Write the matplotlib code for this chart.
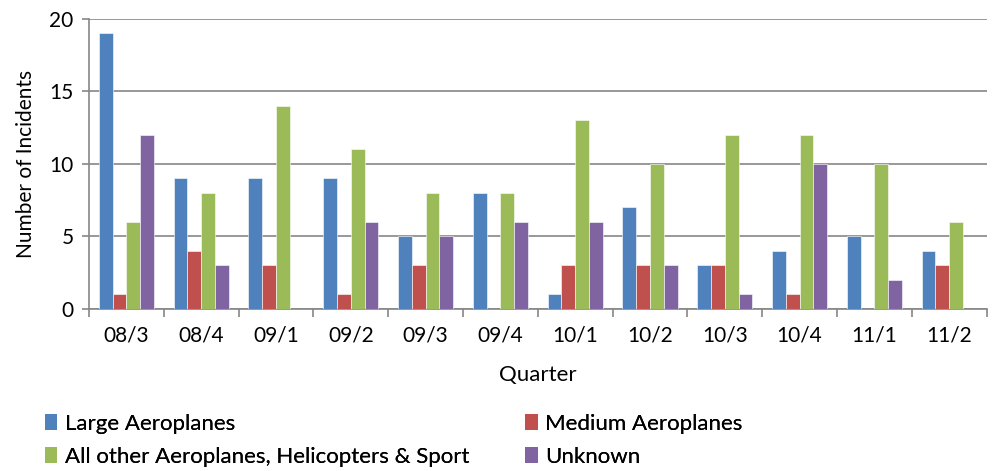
import numpy as np
import matplotlib.pyplot as plt
from matplotlib.patches import Patch

quarters = ["08/3", "08/4", "09/1", "09/2", "09/3", "09/4",
            "10/1", "10/2", "10/3", "10/4", "11/1", "11/2"]
large = [19, 9, 9, 9, 5, 8, 1, 7, 3, 4, 5, 4]
medium = [1, 4, 3, 1, 3, 0, 3, 3, 3, 1, 0, 3]
other = [6, 8, 14, 11, 8, 8, 13, 10, 12, 12, 10, 6]
unknown = [12, 3, 0, 6, 5, 6, 6, 3, 1, 10, 2, 0]

series = [
    ("Large Aeroplanes", large, "#4F81BD"),
    ("Medium Aeroplanes", medium, "#C0504D"),
    ("All other Aeroplanes, Helicopters & Sport", other, "#9BBB59"),
    ("Unknown", unknown, "#8064A2"),
]

plt.rcParams['font.family'] = ['Lato', 'DejaVu Sans']

fig = plt.figure(figsize=(9.93, 4.71), dpi=100)
ax = fig.add_axes([0.0896, 0.344, 0.904, 0.616])

x = np.arange(len(quarters))
w = 0.184
for i, (name, vals, col) in enumerate(series):
    ax.bar(x + (i - 1.5) * w, vals, width=w, color=col,
           edgecolor="white", linewidth=0.4, zorder=3)

grid_col = "#868686"
ax.set_ylim(0, 20)
ax.set_yticks([0, 5, 10, 15, 20])
ax.yaxis.grid(True, color=grid_col, linewidth=1.2, zorder=0)
ax.set_xlim(-0.5, len(quarters) - 0.5)
ax.set_xticks(x)
ax.set_xticklabels(quarters)
ax.set_xticks(np.arange(len(quarters) + 1) - 0.5, minor=True)
ax.tick_params(axis="x", which="major", length=0, pad=12, labelsize=15)
ax.tick_params(axis="x", which="minor", length=6, width=1.2, color=grid_col)
ax.tick_params(axis="y", length=5, width=1.2, color=grid_col, labelsize=15, pad=6)

for s in ["top", "right"]:
    ax.spines[s].set_visible(False)
for s in ["left", "bottom"]:
    ax.spines[s].set_color(grid_col)
    ax.spines[s].set_linewidth(1.2)

ax.set_xlabel("Quarter", fontsize=16, labelpad=14)
ax.set_ylabel("Number of Incidents", fontsize=15, labelpad=10)

# legend: two columns, each placed on its own
leg_kw = dict(loc="upper left", frameon=False, fontsize=16,
              handlelength=0.55, handleheight=0.7, handletextpad=0.35,
              labelspacing=0.6, borderpad=0, borderaxespad=0)
cols = [[series[0], series[2]], [series[1], series[3]]]
for anchor, col in zip([(0.045, 0.122), (0.529, 0.122)], cols):
    hs = [Patch(facecolor=c, edgecolor="none") for _, _, c in col]
    ls = [n for n, _, _ in col]
    fig.add_artist(fig.legend(hs, ls, bbox_to_anchor=anchor, **leg_kw))

fig.savefig("out.png", dpi=100)
